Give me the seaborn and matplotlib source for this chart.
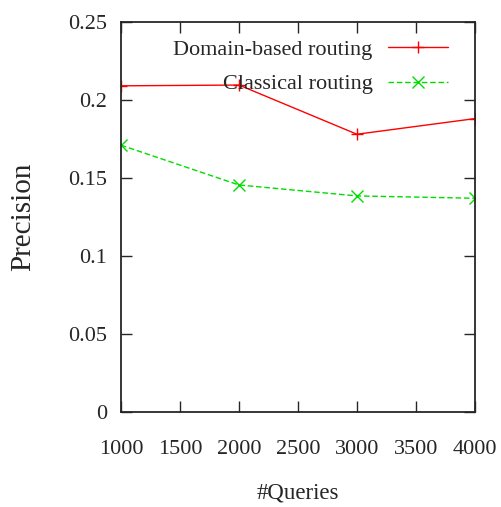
import numpy as np
import pandas as pd
import seaborn as sns
import matplotlib
matplotlib.use("Agg")
import matplotlib.pyplot as plt

# values
queries = [1000, 2000, 3000, 4000]
domain_based = [0.209, 0.2095, 0.178, 0.188]
classical = [0.171, 0.1455, 0.1385, 0.137]
series_names = ["Domain-based routing", "Classical routing"]

df = pd.DataFrame({
    "Queries": queries * 2,
    "Precision": domain_based + classical,
    "Routing": [series_names[0]] * 4 + [series_names[1]] * 4,
})

sns.set_style("ticks")
plt.rcParams["font.family"] = ["Liberation Serif", "DejaVu Serif"]

fig, ax = plt.subplots(figsize=(5.02, 5.07), dpi=100)
fig.subplots_adjust(left=0.241, right=0.946, top=0.957, bottom=0.187)

sns.lineplot(data=df, x="Queries", y="Precision", hue="Routing", style="Routing",
             hue_order=series_names, style_order=series_names,
             palette=["#ff0000", "#00dd00"], markers=["+", "x"],
             dashes=[(None, None), (4, 2)], linewidth=1, markersize=8,
             markeredgewidth=1, ax=ax)
# + and x markers need an edge colour matching the line
for ln in ax.lines:
    ln.set_markeredgecolor(ln.get_color())

ax.set_xlim(1000, 4000)
ax.set_ylim(0, 0.25)
ax.set_xticks(np.arange(1000, 4001, 500))
ax.set_yticks([0, 0.05, 0.1, 0.15, 0.2, 0.25])
ax.set_yticklabels(["0", "0.05", "0.1", "0.15", "0.2", "0.25"])
ax.tick_params(direction="in", top=True, right=True, length=8, width=1,
               labelsize=16)
ax.tick_params(axis="x", pad=20)
ax.tick_params(axis="y", pad=10)
for s in ax.spines.values():
    s.set_linewidth(1.3)
    s.set_visible(True)

ax.set_xlabel("#Queries", fontsize=16.5, labelpad=17)
ax.set_ylabel("Precision", fontsize=21, labelpad=23)

leg = ax.legend(loc="upper right", bbox_to_anchor=(0.975, 1.0), frameon=False,
                markerfirst=False, fontsize=16, handlelength=2.7,
                labelspacing=0.62, handletextpad=0.7, borderpad=0.3)
for h in leg.get_lines():
    h.set_markeredgecolor(h.get_color())

fig.savefig("out.png", dpi=100)
